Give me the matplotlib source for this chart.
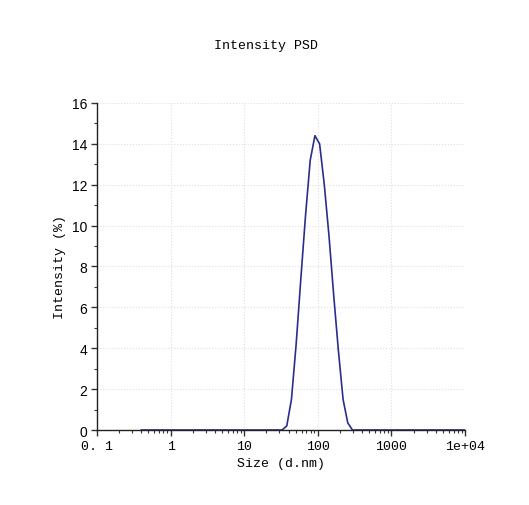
import matplotlib
matplotlib.use('Agg')
import matplotlib.pyplot as plt
from matplotlib.ticker import FixedLocator, LogLocator, NullFormatter, MultipleLocator

# size bins (d.nm) and intensity (%)
sizes = [0.4, 32.67, 37.84, 43.82, 50.75, 58.77, 68.06, 78.82, 91.28, 105.7,
         122.4, 141.8, 164.2, 190.1, 220.2, 255.0, 295.3, 342.0, 10000]
intensity = [0, 0, 0.2, 1.5, 4.2, 7.4, 10.5, 13.2, 14.4, 14.0,
             12.0, 9.5, 6.6, 3.9, 1.5, 0.35, 0, 0, 0]

xticks = [0.1, 1, 10, 100, 1000, 10000]
xticklabels = ['0. 1', '1', '10', '100', '1000', '1e+04']

mono = 'Liberation Mono'

fig = plt.figure(figsize=(5.29, 5.06), dpi=100)
ax = fig.add_axes([0.1834, 0.1482, 0.6957, 0.6463])

ax.plot(sizes, intensity, color='#2a2d8c', linewidth=1.2)
ax.set_xscale('log')
ax.set_xlim(0.1, 10000)
ax.set_ylim(0, 16)

ax.xaxis.set_major_locator(FixedLocator(xticks))
ax.set_xticklabels(xticklabels, fontfamily=mono, fontsize=9.5)
ax.xaxis.set_minor_locator(LogLocator(base=10, subs=range(2, 10)))
ax.xaxis.set_minor_formatter(NullFormatter())
ax.yaxis.set_major_locator(MultipleLocator(2))
ax.yaxis.set_minor_locator(MultipleLocator(1))
for lab in ax.get_yticklabels():
    lab.set_fontfamily('Liberation Sans')
    lab.set_fontsize(10)

ax.tick_params(which='major', length=4, width=1, color='#333333', pad=3)
ax.tick_params(which='minor', length=2.5, width=0.8, color='#333333')

ax.grid(True, which='major', color='#dedede', linestyle=':', linewidth=0.8)
for s in ['top', 'right']:
    ax.spines[s].set_visible(False)
for s in ['left', 'bottom']:
    ax.spines[s].set_color('#222222')
    ax.spines[s].set_linewidth(1.0)

ax.set_xlabel('Size (d.nm)', fontfamily=mono, fontsize=9.5, labelpad=4)
ax.set_ylabel('Intensity (%)', fontfamily=mono, fontsize=9.5, labelpad=4)
fig.text(0.503, 0.909, 'Intensity PSD', fontfamily=mono, fontsize=9.5,
         ha='center', va='center')

fig.savefig('out.png', dpi=100, facecolor='white')
